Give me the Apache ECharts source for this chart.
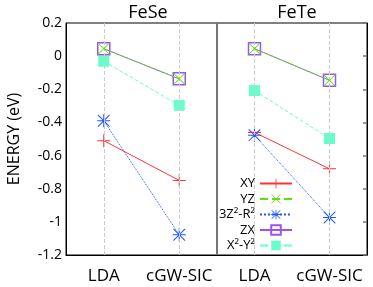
<!DOCTYPE html>
<html><head><meta charset="utf-8">
<script src="https://cdn.jsdelivr.net/npm/echarts@6/dist/echarts.min.js"></script>
<style>html,body{margin:0;padding:0;background:#fff}#c{width:373px;height:287px}</style>
</head><body><div id="c"></div>
<script>
var categories = ['LDA', 'cGW-SIC'];
var panels = ['FeSe', 'FeTe'];
var seriesNames = ['XY', 'YZ', '3Z²-R²', 'ZX', 'X²-Y²'];
var yTicks = [-1.2, -1, -0.8, -0.6, -0.4, -0.2, 0, 0.2];
// values per orbital: [LDA, cGW-SIC]
var feSe_XY = [-0.51, -0.75];
var feSe_YZ = [0.045, -0.137];
var feSe_3Z2 = [-0.39, -1.078];
var feSe_ZX = [0.045, -0.137];
var feSe_X2Y2 = [-0.031, -0.297];
var feTe_XY = [-0.46, -0.68];
var feTe_YZ = [0.045, -0.146];
var feTe_3Z2 = [-0.477, -0.974];
var feTe_ZX = [0.045, -0.146];
var feTe_X2Y2 = [-0.208, -0.497];

var FONT = 'Open Sans';
var plusP = 'path://M0,9.2H20V10.8H0Z M9.2,0H10.8V20H9.2Z';
var xP = 'path://M1,0L10,9L19,0L20,1L11,10L20,19L19,20L10,11L1,20L0,19L9,10L0,1Z';
var starP = 'path://M0,9.2H20V10.8H0Z M9.2,0H10.8V20H9.2Z M1.6,0.5L10,8.9L18.4,0.5L19.5,1.6L11.1,10L19.5,18.4L18.4,19.5L10,11.1L1.6,19.5L0.5,18.4L8.9,10L0.5,1.6Z';

var styles = [
  {color:'#ff3333', symbol:plusP, size:13, type:'solid', fill:'#ff3333'},
  {color:'#66dd11', symbol:xP, size:12, type:'dashed', fill:'#66dd11'},
  {color:'#2255ff', symbol:starP, size:13, type:'dotted', fill:'#2255ff'},
  {color:'#9955ee', symbol:'rect', size:12, type:'solid', fill:'rgba(0,0,0,0)'},
  {color:'#66ffcc', symbol:'rect', size:11, type:'dashed', fill:'#66ffcc'}
];
var data = [
  [feSe_XY, feSe_YZ, feSe_3Z2, feSe_ZX, feSe_X2Y2],
  [feTe_XY, feTe_YZ, feTe_3Z2, feTe_ZX, feTe_X2Y2]
];

var series = [];
for (var p = 0; p < 2; p++) {
  series.push({type:'line', xAxisIndex:p, yAxisIndex:p, data:[], silent:true,
    markLine:{silent:true, symbol:'none', label:{show:false},
      lineStyle:{color:'#cccccc', type:'dashed', width:1},
      data: categories.map(function(c){return {xAxis:c};})}});
  for (var i = 0; i < 5; i++) {
    var s = styles[i];
    series.push({
      name: seriesNames[i], type:'line', xAxisIndex:p, yAxisIndex:p,
      data: data[p][i], symbol:s.symbol, symbolSize:s.size,
      z: 2 + (i===1?3:(i===3?1:0)),
      lineStyle:{color:s.color, width:1, type:s.type},
      itemStyle:{color:s.fill, borderColor:s.color, borderWidth: i===3?1.5:0},
      color: s.color, animation:false
    });
  }
}

var option = {
  animation:false,
  textStyle:{fontFamily:FONT},
  title: [
    {text:'FeSe', left:143, top:-1, textAlign:'center', textStyle:{fontFamily:FONT, fontSize:18, fontWeight:'normal', color:'#000'}},
    {text:'FeTe', left:292, top:-1, textAlign:'center', textStyle:{fontFamily:FONT, fontSize:18, fontWeight:'normal', color:'#000'}}
  ],
  grid: [
    {left:66, top:23, width:151, height:232, show:true, borderColor:'#000', borderWidth:1},
    {left:217, top:23, width:150, height:232, show:true, borderColor:'#000', borderWidth:1}
  ],
  xAxis: [0,1].map(function(p){return {
    type:'category', gridIndex:p, data:categories, boundaryGap:true,
    axisLine:{show:true, onZero:false, lineStyle:{color:'#000', width:1}}, axisTick:{show:false},
    axisLabel:{fontFamily:FONT, fontSize:17, color:'#000', margin:13, interval:0, hideOverlap:false},
    splitLine:{show:false}
  };}),
  yAxis: [
    {type:'value', gridIndex:0, min:yTicks[0], max:yTicks[yTicks.length-1], interval:0.2,
     name:'ENERGY (eV)', nameLocation:'middle', nameGap:44, nameRotate:90,
     nameTextStyle:{fontFamily:FONT, fontSize:16, color:'#000'},
     axisLine:{show:true, lineStyle:{color:'#000'}}, axisTick:{show:false},
     axisLabel:{fontFamily:FONT, fontSize:14, color:'#000', margin:4},
     splitLine:{show:false}},
    {type:'value', gridIndex:1, min:yTicks[0], max:yTicks[yTicks.length-1], interval:0.2,
     axisLine:{show:true, lineStyle:{color:'#777', width:2}}, axisTick:{show:false},
     axisLabel:{show:false}, splitLine:{show:false}},
    {type:'value', gridIndex:1, position:'right', min:yTicks[0], max:yTicks[yTicks.length-1], interval:0.2,
     axisLine:{show:true, lineStyle:{color:'#000'}}, axisTick:{show:true, inside:true, length:4, lineStyle:{color:'#777', width:1.5}},
     axisLabel:{show:false}, splitLine:{show:false}}
  ],
  legend: {
    data: seriesNames, orient:'vertical', right:80, top:177, align:'right',
    itemWidth:32, itemHeight:12, itemGap:2.5,
    textStyle:{fontFamily:FONT, fontSize:13, color:'#000', padding:[0,0,0,0]},
    padding:0
  },
  series: series
};
var chart = echarts.init(document.getElementById('c'), null, {renderer:'canvas'});
chart.setOption(option);
</script></body></html>
